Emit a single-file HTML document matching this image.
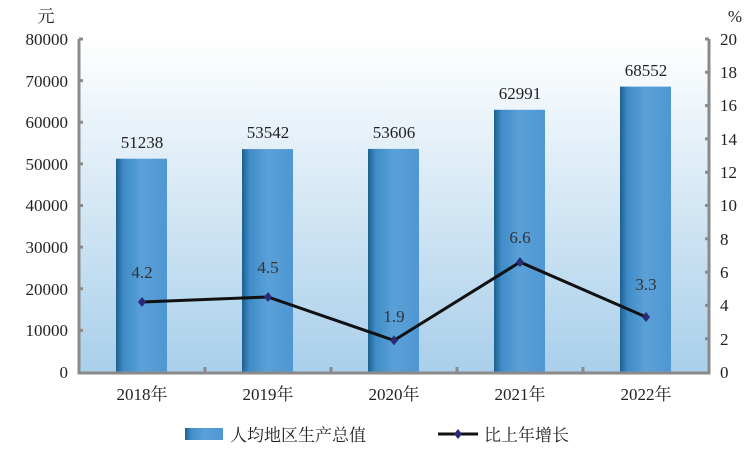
<!DOCTYPE html>
<html><head><meta charset="utf-8"><style>
body{margin:0;background:#fff;}
text{font-family:"Liberation Serif","Noto Serif CJK SC",serif;}
</style></head><body>
<svg width="750" height="458" xmlns="http://www.w3.org/2000/svg">
<defs>
<linearGradient id="bg" x1="0" y1="0" x2="0" y2="1">
<stop offset="0" stop-color="#ffffff"/><stop offset="1" stop-color="#a9cfea"/></linearGradient>
<linearGradient id="bar" x1="0" y1="0" x2="1" y2="0">
<stop offset="0" stop-color="#1e5f8e"/><stop offset="0.15" stop-color="#3f8cc8"/><stop offset="0.5" stop-color="#5aa0d8"/><stop offset="1" stop-color="#4f97d2"/></linearGradient>
</defs>
<rect x="80" y="39" width="628" height="333" fill="url(#bg)"/>
<g fill="url(#bar)">
<rect x="116" y="158.7" width="51" height="213.3"/>
<rect x="242" y="149.1" width="51" height="222.9"/>
<rect x="368" y="148.9" width="51" height="223.1"/>
<rect x="494" y="109.8" width="51" height="262.2"/>
<rect x="620" y="86.6" width="51" height="285.4"/>
</g>
<g stroke="#8a8a8a" stroke-width="3" fill="none">
<path d="M79,39 V373 H709 V39"/>
</g>
<g stroke="#8a8a8a" stroke-width="3">
<path d="M79,39h4M79,80.6h4M79,122.3h4M79,163.9h4M79,205.5h4M79,247.1h4M79,288.8h4M79,330.4h4"/>
<path d="M709,39h-4M709,72.3h-4M709,105.6h-4M709,138.9h-4M709,172.2h-4M709,205.5h-4M709,238.8h-4M709,272.1h-4M709,305.4h-4M709,338.7h-4"/>
<path d="M205,372v-5M331,372v-5M457,372v-5M583,372v-5"/>
</g>
<g font-size="17" fill="#222" text-anchor="end">
<text x="68" y="45">80000</text><text x="68" y="87">70000</text><text x="68" y="128">60000</text><text x="68" y="170">50000</text><text x="68" y="211">40000</text><text x="68" y="253">30000</text><text x="68" y="295">20000</text><text x="68" y="336">10000</text><text x="68" y="378">0</text>
</g>
<text x="46" y="22" font-size="17" fill="#222" text-anchor="middle">元</text>
<text x="735" y="22" font-size="17" fill="#222" text-anchor="middle">%</text>
<g font-size="17" fill="#222" text-anchor="start">
<text x="720" y="45">20</text><text x="720" y="78">18</text><text x="720" y="111">16</text><text x="720" y="145">14</text><text x="720" y="178">12</text><text x="720" y="211">10</text><text x="720" y="245">8</text><text x="720" y="278">6</text><text x="720" y="311">4</text><text x="720" y="345">2</text><text x="720" y="378">0</text>
</g>
<g font-size="17" fill="#222" text-anchor="middle">
<text x="142" y="148">51238</text><text x="268" y="138">53542</text><text x="394" y="138">53606</text><text x="520" y="99">62991</text><text x="646" y="76">68552</text>
<text x="142" y="400">2018年</text><text x="268" y="400">2019年</text><text x="394" y="400">2020年</text><text x="520" y="400">2021年</text><text x="646" y="400">2022年</text>
</g>
<g font-size="17" fill="#333" text-anchor="middle">
<text x="142" y="278">4.2</text><text x="268" y="273">4.5</text><text x="394" y="322">1.9</text><text x="520" y="243">6.6</text><text x="646" y="290">3.3</text>
</g>
<polyline points="142,302 268,297 394,340.4 520,262.1 646,317" fill="none" stroke="#111" stroke-width="3"/>
<g fill="#2b2a78">
<path d="M142,297l4,5l-4,5l-4,-5z"/><path d="M268,292l4,5l-4,5l-4,-5z"/><path d="M394,335.4l4,5l-4,5l-4,-5z"/><path d="M520,257.1l4,5l-4,5l-4,-5z"/><path d="M646,312l4,5l-4,5l-4,-5z"/>
</g>
<rect x="185" y="428" width="38" height="12" fill="url(#bar)"/>
<text x="230" y="441" font-size="17" fill="#222" font-family="Liberation Sans,Noto Sans CJK SC,sans-serif">人均地区生产总值</text>
<line x1="438" y1="434" x2="478" y2="434" stroke="#111" stroke-width="3"/>
<path d="M458,429l4,5l-4,5l-4,-5z" fill="#2b2a78"/>
<text x="484" y="441" font-size="17" fill="#222" font-family="Liberation Sans,Noto Sans CJK SC,sans-serif">比上年增长</text>
</svg>
</body></html>
